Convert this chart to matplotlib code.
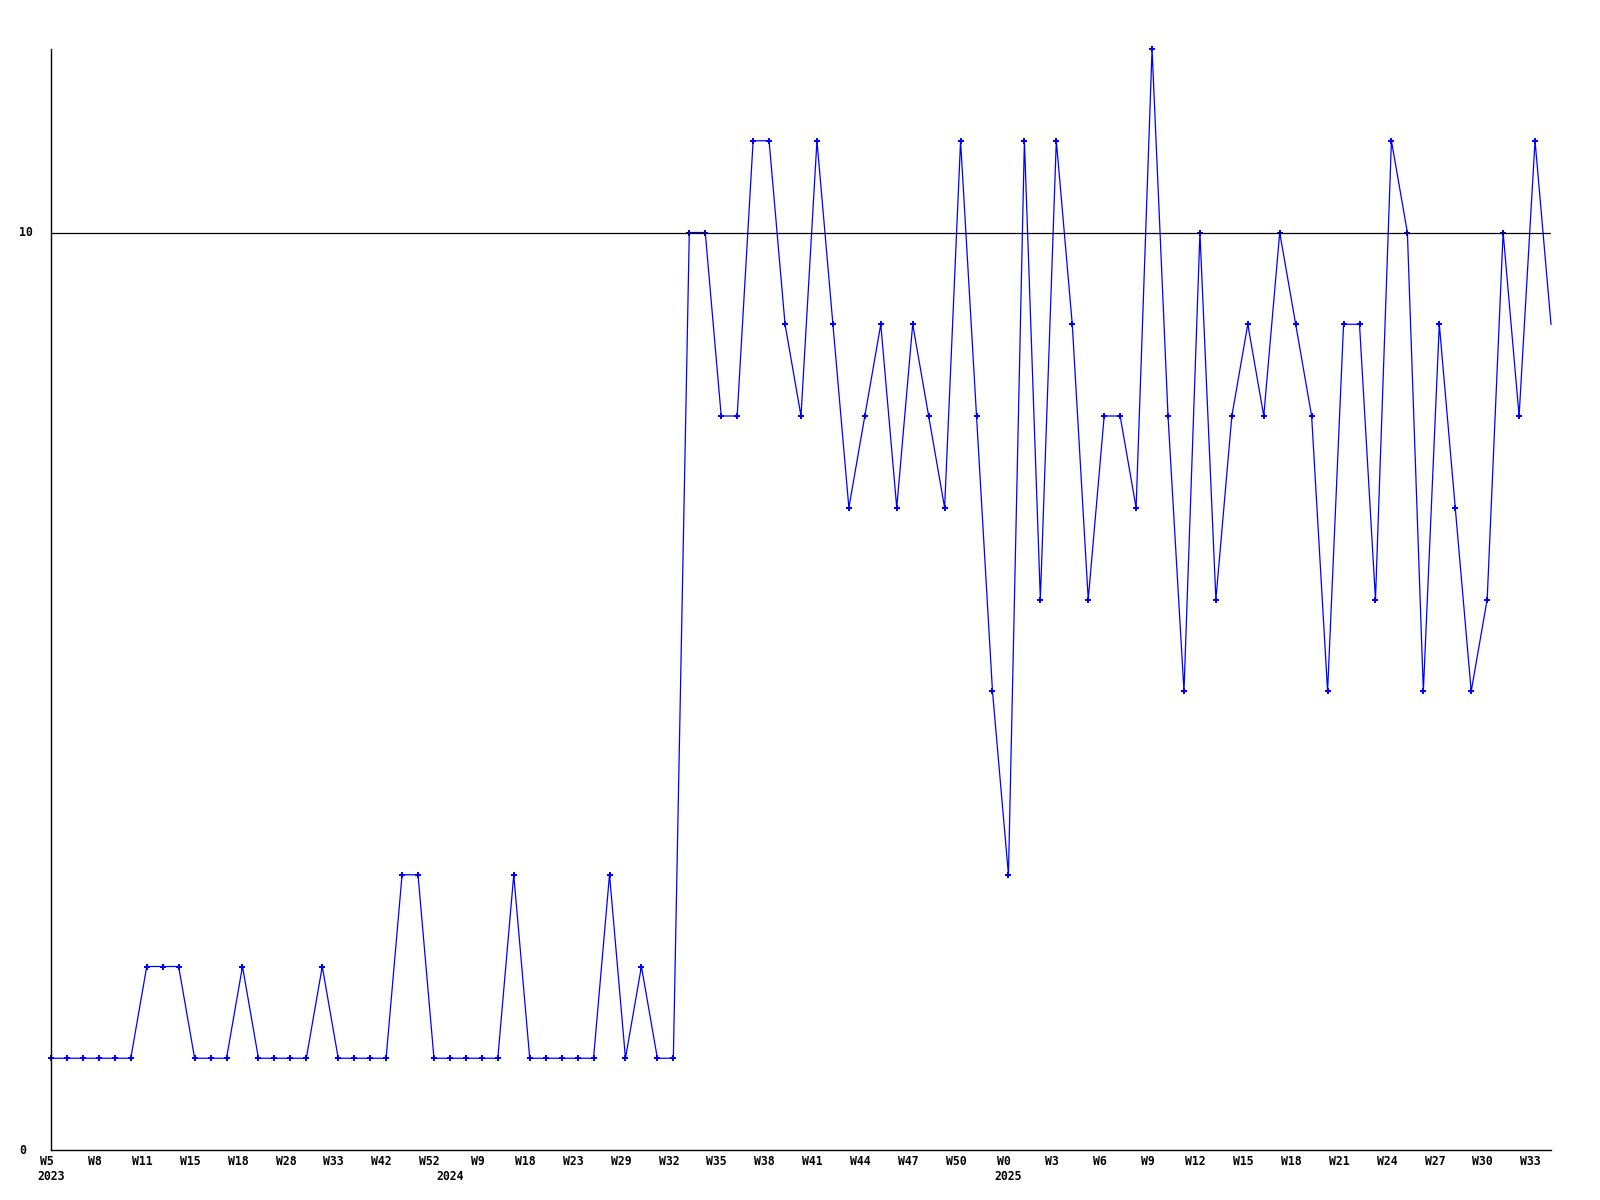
import matplotlib
matplotlib.use("Agg")
import matplotlib.pyplot as plt

# weekly counts, one point per week shown on the axis
values = [1, 1, 1, 1, 1, 1, 2, 2, 2, 1,
          1, 1, 2, 1, 1, 1, 1, 2, 1, 1,
          1, 1, 3, 3, 1, 1, 1, 1, 1, 3,
          1, 1, 1, 1, 1, 3, 1, 2, 1, 1,
          10, 10, 8, 8, 11, 11, 9, 8, 11, 9,
          7, 8, 9, 7, 9, 8, 7, 11, 8, 5,
          3, 11, 6, 11, 9, 6, 8, 8, 7, 12,
          8, 5, 10, 6, 8, 9, 8, 10, 9, 8,
          5, 9, 9, 6, 11, 10, 5, 9, 7, 5,
          6, 10, 8, 11, 9]

week_labels = ["W5", "W8", "W11", "W15", "W18", "W28", "W33", "W42", "W52", "W9",
               "W18", "W23", "W29", "W32", "W35", "W38", "W41", "W44", "W47", "W50",
               "W0", "W3", "W6", "W9", "W12", "W15", "W18", "W21", "W24", "W27",
               "W30", "W33"]
label_every = 3

years = ["2023", "2024", "2025"]
year_start = [0, 25, 60]

y_labels = [0, 10]

font = dict(family="DejaVu Sans Mono", weight="bold", size=8.3)

fig = plt.figure(figsize=(16, 12), dpi=100)
ax = fig.add_axes([51 / 1600, 1 - 1150 / 1200, 1500 / 1600, 1101 / 1200])

x = list(range(len(values)))
ax.plot(x, values, color="#0000ff", lw=0.9, marker="P", ms=5, mew=0,
        markevery=list(range(len(values) - 1)), clip_on=False)

ax.axhline(10, color="black", lw=0.9)

ax.set_xlim(0, len(values) - 1)
ax.set_ylim(0, 12)

for s in ["top", "right"]:
    ax.spines[s].set_visible(False)
for s in ["left", "bottom"]:
    ax.spines[s].set_linewidth(1.0)

ax.set_xticks([])
ax.set_yticks([])

xt = ax.get_xaxis_transform()
for i, lab in enumerate(week_labels):
    ax.text(i * label_every - 0.28, -0.010, lab, transform=xt,
            ha="center", va="center", **font)
for lab, pos in zip(years, year_start):
    ax.text(pos, -0.0245, lab, transform=xt, ha="center", va="center", **font)

yt = ax.get_yaxis_transform()
for v in y_labels:
    ax.text(-32 / 1500, v, str(v), transform=yt, ha="left", va="center", **font)

fig.savefig("out.png", dpi=100)
